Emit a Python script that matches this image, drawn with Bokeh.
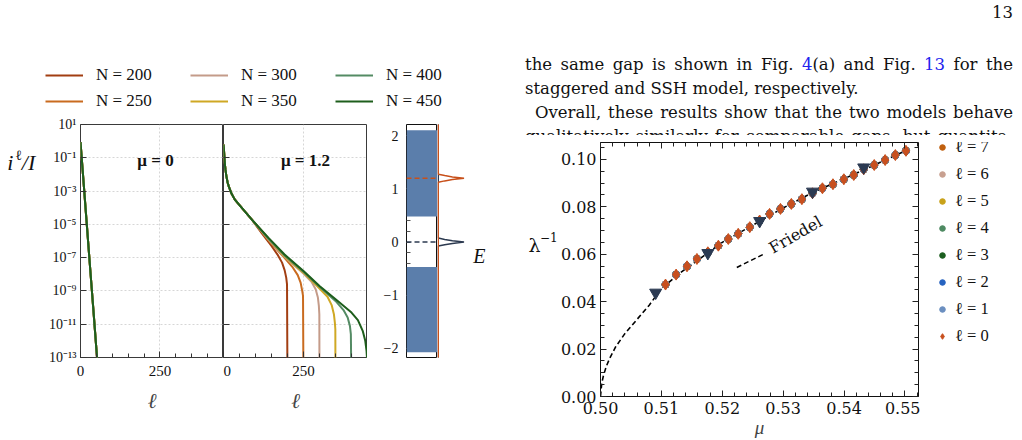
import numpy as np
from bokeh.plotting import figure
from bokeh.layouts import row, column
from bokeh.models import (Range1d, FixedTicker, CustomJSTickFormatter, PrintfTickFormatter,
                          Label, Legend, LegendItem, LinearAxis, Arrow, Div, BoxAnnotation, Span)
from bokeh.embed import file_html
from bokeh.resources import INLINE

# ---------------------------------------------------------------- data
system_sizes = [200, 250, 300, 350, 400, 450]
size_colors = ["#a23e12", "#c96b1f", "#c49b89", "#cfa824", "#548b64", "#1e5e1c"]

# mu = 0 : log10(i^l / I) versus l (all system sizes coincide)
ell_mu0 = [0, 10, 20, 30, 40, 50, 60]
log_ratio_mu0 = [-0.06, -2.55, -5.05, -7.55, -10.0, -12.5, -15.0]

# mu = 1.2 : common short-distance part
ell_mu12_head = [0, 1, 2, 4, 6, 9, 13, 17, 25, 35, 46, 90]
log_ratio_mu12_head = [-0.2, -0.4, -0.7, -1.3, -1.7, -2.1, -2.5, -2.75, -3.15, -3.5, -3.76, -4.75]

# mu = 1.2 : long-distance part, one list per system size
ell_mu12_tail = {
    200: [120, 150, 170, 183, 191, 196, 198.5, 200],
    250: [140, 190, 215, 232, 241, 246, 248.5, 250],
    300: [140, 190, 250, 275, 288, 295, 298, 299.5, 300],
    350: [140, 190, 250, 300, 325, 338, 345, 348, 349.5, 350],
    400: [140, 190, 250, 300, 350, 375, 388, 395, 398, 400],
    450: [140, 190, 250, 300, 357, 400, 420, 435, 443, 447, 449, 450],
}
log_ratio_mu12_tail = {
    200: [-5.55, -6.3, -6.85, -7.3, -7.75, -8.2, -8.6, -15.0],
    250: [-5.95, -7.0, -7.55, -8.05, -8.5, -9.0, -9.3, -15.0],
    300: [-5.9, -6.95, -7.95, -8.45, -8.9, -9.4, -9.9, -10.4, -15.0],
    350: [-5.85, -6.9, -7.9, -8.85, -9.35, -9.85, -10.4, -10.9, -11.3, -15.0],
    400: [-5.85, -6.85, -7.85, -8.75, -9.6, -10.15, -10.6, -11.1, -11.6, -15.0],
    450: [-5.8, -6.8, -7.8, -8.7, -9.6, -10.3, -10.75, -11.4, -12.0, -12.6, -13.2, -15.0],
}

# spectrum: bands, chemical potentials and local density of states
band_bottom = [0.48, -2.07]
band_top = [2.10, -0.47]
mu_values = [0.0, 1.2]
mu_colors = ["#2c3a50", "#c8501a"]
dos_energy = {
    0.0: [-2.3, -0.075, -0.05, -0.025, 0.0, 0.025, 0.05, 0.075, 2.3],
    1.2: [-2.3, 1.125, 1.15, 1.175, 1.2, 1.225, 1.25, 1.275, 2.3],
}
dos_weight = {
    0.0: [0, 0, 0.25, 0.55, 1.0, 0.55, 0.25, 0, 0],
    1.2: [0, 0, 0.25, 0.55, 1.0, 0.55, 0.25, 0, 0],
}

# inverse decay length versus mu
mu_scan = [0.51068, 0.51242, 0.51421, 0.51584, 0.51763, 0.51936, 0.52099, 0.52262,
           0.52452, 0.52614, 0.52777, 0.52956, 0.53135, 0.53308, 0.53482, 0.53645,
           0.53818, 0.53997, 0.54160, 0.54323, 0.54496, 0.54675, 0.54843, 0.55017]
inv_length = [0.0472, 0.0514, 0.0549, 0.0580, 0.0608, 0.0636, 0.0664, 0.0686,
              0.0714, 0.0742, 0.0770, 0.0791, 0.0812, 0.0832, 0.0857, 0.0878,
              0.0895, 0.0916, 0.0934, 0.0958, 0.0976, 0.0997, 0.1018, 0.1036]
mu_fit = [0.50906, 0.51763, 0.52614, 0.53482, 0.54323]
inv_fit = [0.0438, 0.0605, 0.0740, 0.0864, 0.0966]
friedel_mu = [0.5000, 0.5002, 0.5005, 0.5010, 0.5015, 0.5025, 0.5040, 0.5060, 0.5080,
              0.5100, 0.5130, 0.5160, 0.5200, 0.5250, 0.5300, 0.5350, 0.5400, 0.5450, 0.5500]
friedel_inv = [0.0000, 0.0055, 0.0090, 0.0130, 0.0160, 0.0210, 0.0265, 0.0325, 0.0385,
               0.0455, 0.0520, 0.0575, 0.0650, 0.0722, 0.0795, 0.0862, 0.0918, 0.0976, 0.1035]
ell_orders = [8, 7, 6, 5, 4, 3, 2, 1, 0]
ell_colors = ["#9c3b12", "#c0600f", "#c8a090", "#c9a21a", "#4e8a62", "#1b5e1f",
              "#2763c0", "#6b8fc0", "#c8501e"]

paragraph_lines = [
    'the same gap is shown in Fig. <span style="color:#2222ee">4</span>(a) and Fig. '
    '<span style="color:#2222ee">13</span> for the',
    "staggered and SSH model, respectively.",
    "Overall, these results show that the two models behave",
    "qualitatively similarly for comparable gaps, but quantita-",
]

SERIF = "Liberation Serif"
SERIF2 = "DejaVu Serif"


def add_text(p, x, y, text, size, font=SERIF, style="normal", align="left", angle=0.0):
    p.add_layout(Label(x=x, y=y, x_units="screen", y_units="screen", text=text,
                       text_font=font, text_font_size=f"{size}px", text_font_style=style,
                       text_align=align, text_baseline="alphabetic", angle=angle,
                       text_color="#111111"))


def blank_figure(width, height, **kw):
    return figure(width=width, height=height, x_axis_type=None, y_axis_type=None,
                  output_backend="svg", toolbar_location=None, outline_line_color=None, **kw)


SUP_JS = """
const sup = {"-": "\u207b", "0": "\u2070", "1": "\u00b9", "2": "\u00b2", "3": "\u00b3",
             "4": "\u2074", "5": "\u2075", "6": "\u2076", "7": "\u2077", "8": "\u2078", "9": "\u2079"};
const e = Math.round(Math.log10(tick));
return "10" + String(e).split("").map(c => sup[c]).join("");
"""


def decay_panel(width, left_border, show_ylabels):
    p = figure(width=width, height=328, x_range=Range1d(0, 450), y_range=Range1d(1e-13, 1e1),
               y_axis_type="log", output_backend="svg", toolbar_location=None,
               min_border_left=left_border, min_border_right=0, min_border_top=12,
               min_border_bottom=83)
    p.outline_line_color = "#3a3a3a"
    p.outline_line_width = 1
    p.xaxis.ticker = FixedTicker(ticks=[0, 250], minor_ticks=list(range(0, 451, 50)))
    p.yaxis.ticker = FixedTicker(ticks=[10.0 ** k for k in range(1, -14, -2)], minor_ticks=[])
    p.yaxis.formatter = CustomJSTickFormatter(code=SUP_JS)
    for ax in (p.xaxis[0], p.yaxis[0]):
        ax.major_tick_in = 6
        ax.major_tick_out = 0
        ax.minor_tick_in = 4
        ax.minor_tick_out = 0
        ax.axis_line_color = None
        ax.major_tick_line_color = "#333333"
        ax.minor_tick_line_color = "#333333"
        ax.major_label_text_font = SERIF
        ax.major_label_text_color = "#111111"
    p.xaxis.major_label_text_font_size = "15px"
    p.xaxis.major_label_standoff = 8
    p.xaxis.axis_label = "ℓ"
    p.xaxis.axis_label_text_font = SERIF
    p.xaxis.axis_label_text_font_style = "italic"
    p.xaxis.axis_label_text_font_size = "21px"
    p.xaxis.axis_label_standoff = 10
    if show_ylabels:
        p.yaxis.major_label_text_font_size = "14px"
        p.yaxis.major_label_standoff = 4
    else:
        p.yaxis.major_label_text_font_size = "0px"
        p.yaxis.major_label_standoff = 0
    p.grid.grid_line_color = "#cccccc"
    p.grid.grid_line_dash = "2 2"
    p.grid.grid_line_width = 0.8
    return p


# ---------------------------------------------------------------- N legend strip
pleg = blank_figure(515, 112, x_range=Range1d(-2, -1), y_range=Range1d(0, 1), min_border=0)
leg_items = []
for n, c in zip(system_sizes, size_colors):
    r = pleg.line(ell_mu0, np.power(10.0, log_ratio_mu0), color=c, line_width=2)
    leg_items.append(LegendItem(label=f"N = {n}", renderers=[r]))
pleg.add_layout(Legend(items=leg_items, location=(45, 1), orientation="vertical", nrows=2,
                       glyph_width=38, glyph_height=20, label_height=20, label_width=88,
                       label_standoff=13, spacing=6, padding=0, margin=0,
                       border_line_color=None, background_fill_alpha=0,
                       label_text_font=SERIF, label_text_font_size="17px",
                       label_text_color="#111111"))

# ---------------------------------------------------------------- y label strip
ylab = blank_figure(40, 328, x_range=Range1d(0, 1), y_range=Range1d(0, 1), min_border=0)
add_text(ylab, 6.7, 195, "i", 22, style="italic")
add_text(ylab, 14.7, 202, "ℓ", 14)
add_text(ylab, 21.3, 195, "/I", 22, style="italic")

# ---------------------------------------------------------------- mu = 0 panel
p1 = decay_panel(183, 40, True)
for n, c in zip(system_sizes, size_colors):
    p1.line(ell_mu0, np.power(10.0, log_ratio_mu0), color=c, line_width=2)
add_text(p1, 75, 197, "μ = 0", 17, style="bold", align="center")

# ---------------------------------------------------------------- mu = 1.2 panel
p2 = decay_panel(144, 0, False)
for n, c in zip(system_sizes, size_colors):
    ell = ell_mu12_head + ell_mu12_tail[n]
    logv = log_ratio_mu12_head + log_ratio_mu12_tail[n]
    p2.line(ell, np.power(10.0, logv), color=c, line_width=2)
add_text(p2, 82, 197, "μ = 1.2", 17, style="bold", align="center")

# ---------------------------------------------------------------- spectrum panel
p3 = figure(width=70, height=328, x_range=Range1d(0, 1), y_range=Range1d(-2.17, 2.21),
            output_backend="svg", toolbar_location=None,
            min_border_left=39, min_border_right=0, min_border_top=12, min_border_bottom=83)
p3.xaxis.visible = False
p3.grid.visible = False
p3.outline_line_color = "#111111"
p3.outline_line_width = 1
ay = p3.yaxis[0]
ay.ticker = FixedTicker(ticks=[-2, -1, 0, 1, 2], minor_ticks=[-0.4, -0.2, 0.2, 0.4])
ay.major_tick_in = 4
ay.major_tick_out = 0
ay.minor_tick_in = 4
ay.minor_tick_out = 0
ay.axis_line_color = None
ay.major_tick_line_color = "#555555"
ay.minor_tick_line_color = "#555555"
ay.major_label_overrides = {-2: "\u22122", -1: "\u22121"}
ay.major_label_text_font = SERIF
ay.major_label_text_font_size = "14px"
ay.major_label_standoff = 8
ay.major_label_text_color = "#111111"
for b, t in zip(band_bottom, band_top):
    p3.add_layout(BoxAnnotation(bottom=b, top=t, fill_color="#5b7eab", fill_alpha=1.0,
                                line_alpha=0))
for m, c in zip(mu_values, mu_colors):
    p3.add_layout(Span(location=m, dimension="width", line_color=c, line_width=1.6,
                       line_dash="5 3"))

# ---------------------------------------------------------------- density of states strip
pdos = blank_figure(78, 328, x_range=Range1d(-0.03, 3.0), y_range=Range1d(-2.17, 2.21),
                    min_border_left=0, min_border_right=0, min_border_top=12,
                    min_border_bottom=83)
for m, c in zip(mu_values, mu_colors):
    pdos.line(dos_weight[m], dos_energy[m], color=c, line_width=1.5)
add_text(pdos, 35.7, 102, "E", 20, style="italic")

# ---------------------------------------------------------------- lambda^-1 label strip
lamlab = blank_figure(42, 305, x_range=Range1d(0, 1), y_range=Range1d(0, 1), min_border=0)
add_text(lamlab, 13, 152, "λ", 19, font=SERIF2)
add_text(lamlab, 24.5, 160, "\u22121", 12, font=SERIF2)

# ---------------------------------------------------------------- inverse length panel
p4 = figure(width=363, height=305, x_range=Range1d(0.5, 0.55223), y_range=Range1d(0, 0.1071),
            output_backend="svg", toolbar_location=None,
            min_border_left=40, min_border_right=2, min_border_top=7, min_border_bottom=42)
p4.grid.visible = False
p4.outline_line_color = "#111111"
p4.outline_line_width = 1
p4.add_layout(LinearAxis(), "above")
p4.add_layout(LinearAxis(), "right")
x_major = [0.50, 0.51, 0.52, 0.53, 0.54, 0.55]
x_minor = [round(0.5 + 0.002 * k, 3) for k in range(27)]
y_major = [0.0, 0.02, 0.04, 0.06, 0.08, 0.10]
y_minor = [round(0.005 * k, 3) for k in range(22)]
for ax in p4.xaxis:
    ax.ticker = FixedTicker(ticks=x_major, minor_ticks=x_minor)
for ax in p4.yaxis:
    ax.ticker = FixedTicker(ticks=y_major, minor_ticks=y_minor)
for ax in list(p4.xaxis) + list(p4.yaxis):
    ax.major_tick_in = 6
    ax.major_tick_out = 0
    ax.minor_tick_in = 4
    ax.minor_tick_out = 0
    ax.axis_line_color = None
    ax.major_tick_line_color = "#222222"
    ax.minor_tick_line_color = "#222222"
    ax.formatter = PrintfTickFormatter(format="%.2f")
    ax.major_label_text_font = SERIF2
    ax.major_label_text_font_size = "16px"
    ax.major_label_text_color = "#111111"
xb = p4.below[0]
xb.major_label_standoff = 5
xb.axis_label = "μ"
xb.axis_label_text_font = SERIF
xb.axis_label_text_font_style = "italic"
xb.axis_label_text_font_size = "19px"
xb.axis_label_standoff = 0
p4.left[0].major_label_standoff = 4
for ax in (p4.above[0], p4.right[0]):
    ax.major_label_text_font_size = "0px"
    ax.major_label_standoff = 0

p4.line(friedel_mu, friedel_inv, color="black", line_width=1.6, line_dash="5 3")
for k, c in zip(ell_orders, ell_colors):
    if k == 0:
        p4.scatter(mu_scan, inv_length, marker="diamond", size=11, color=c)
    else:
        p4.scatter(mu_scan, inv_length, marker="circle", size=7, color=c)
p4.scatter(mu_fit, inv_fit, marker="inverted_triangle", size=12, color="#2b3a52")

p4.add_layout(Arrow(end=None, x_start=136.3, y_start=129, x_end=163, y_end=142.3,
                    start_units="screen", end_units="screen", line_color="black",
                    line_width=1.5, line_dash="5 3"))
add_text(p4, 169.7, 147.3, "Friedel", 16, font=SERIF2, angle=0.52)

# ---------------------------------------------------------------- l legend strip
legfig = blank_figure(102, 305, x_range=Range1d(-2, -1), y_range=Range1d(0, 1), min_border=0)
ell_items = []
for k, c in zip(ell_orders, ell_colors):
    marker = "diamond" if k == 0 else "circle"
    r = legfig.scatter(mu_scan, inv_length, marker=marker, size=7, color=c)
    ell_items.append(LegendItem(label=f"ℓ = {k}", renderers=[r]))
legfig.add_layout(Legend(items=ell_items, location=(15, 50), orientation="vertical",
                         glyph_width=14, glyph_height=14, label_height=20, label_standoff=6,
                         spacing=7, padding=0, margin=0, border_line_color=None,
                         background_fill_alpha=0, label_text_font=SERIF,
                         label_text_font_size="16.5px", label_text_color="#111111"))

# ---------------------------------------------------------------- running text
line_styles = [
    "text-align:justify;text-align-last:justify;",
    "text-align:left;white-space:nowrap;",
    "text-indent:10px;text-align:justify;text-align-last:justify;",
    "text-align:justify;text-align-last:justify;",
]
body = "".join(f'<div style="{s}">{t}</div>' for s, t in zip(line_styles, paragraph_lines))
html = (
    '<div style="position:relative;width:507px;height:135px;overflow:hidden;'
    "font-family:'DejaVu Serif';font-size:16.5px;line-height:24px;color:#111111;\">"
    '<div style="position:absolute;right:9px;top:1px;">13</div>'
    f'<div style="position:absolute;left:10px;right:9px;top:53px;">{body}</div>'
    "</div>"
)
text_block = Div(text=html, width=507, height=135, margin=(0, 0, 0, 0))

page = row(column(pleg, row(ylab, p1, p2, p3, pdos)),
           column(text_block, row(lamlab, p4, legfig)))

open("out.html", "w").write(file_html(page, INLINE))
